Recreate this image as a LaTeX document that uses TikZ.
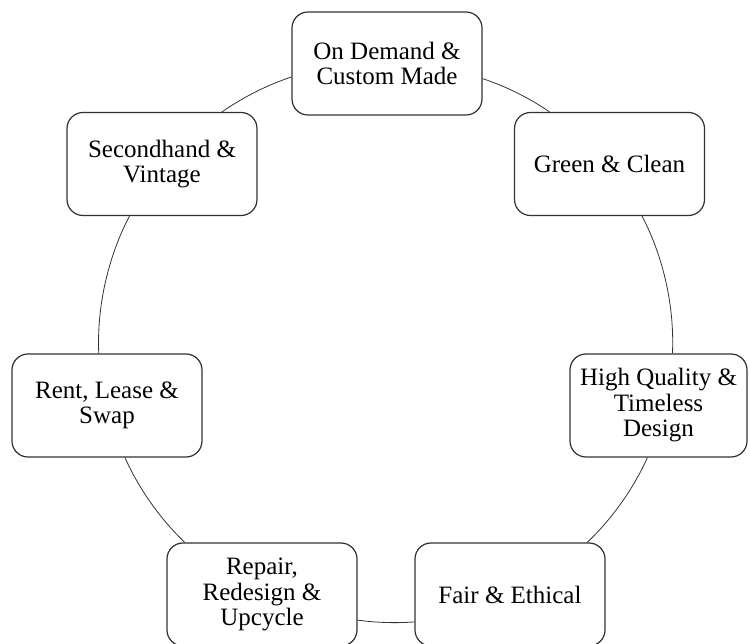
\documentclass[tikz,border=0pt]{standalone}
\usepackage{fontspec}
\setmainfont{Liberation Serif}
\usepackage{xcolor}
\usepackage{tikz}
\definecolor{edge}{RGB}{50, 50, 50}

\begin{document}
\begin{tikzpicture}[
    x=1pt, y=1pt,
    block/.style={rectangle, draw=edge, line width=1.2pt, fill=white, minimum width=190pt, minimum height=103pt, align=center, rounded corners=16pt, font=\fontsize{25}{25.5}\selectfont, text=black},
    link/.style={draw=edge, line width=0.8pt, looseness=0.85}
]
\useasboundingbox (0,0) rectangle (750,643);

\node[block] (demand) at (387,579.5) {On Demand \&\\Custom Made};
\node[block] (green) at (609.5,479) {Green \& Clean};
\node[block, minimum width=177pt] (quality) at (658.5,237.5) {High Quality \&\\Timeless\\Design};
\node[block] (fair) at (510,48.5) {Fair \& Ethical};
\node[block] (repair) at (262,48.5) {Repair,\\Redesign \&\\Upcycle};
\node[block] (rent) at (107,237.5) {Rent, Lease \&\\Swap};
\node[block] (vintage) at (162,479) {Secondhand \&\\Vintage};

% arcs of the cycle
\draw[link] (demand.351) to[bend left=8] (green.139);
\draw[link] (green.302) to[bend left=15] (quality.75);
\draw[link] (quality.258) to[bend left=11] (fair.34);
\draw[link] (fair.196) to[bend left=6] (repair.345);
\draw[link] (repair.146) to[bend left=11] (rent.289);
\draw[link] (rent.99) to[bend left=15] (vintage.238);
\draw[link] (vintage.41) to[bend left=8] (demand.188);
\end{tikzpicture}
\end{document}
